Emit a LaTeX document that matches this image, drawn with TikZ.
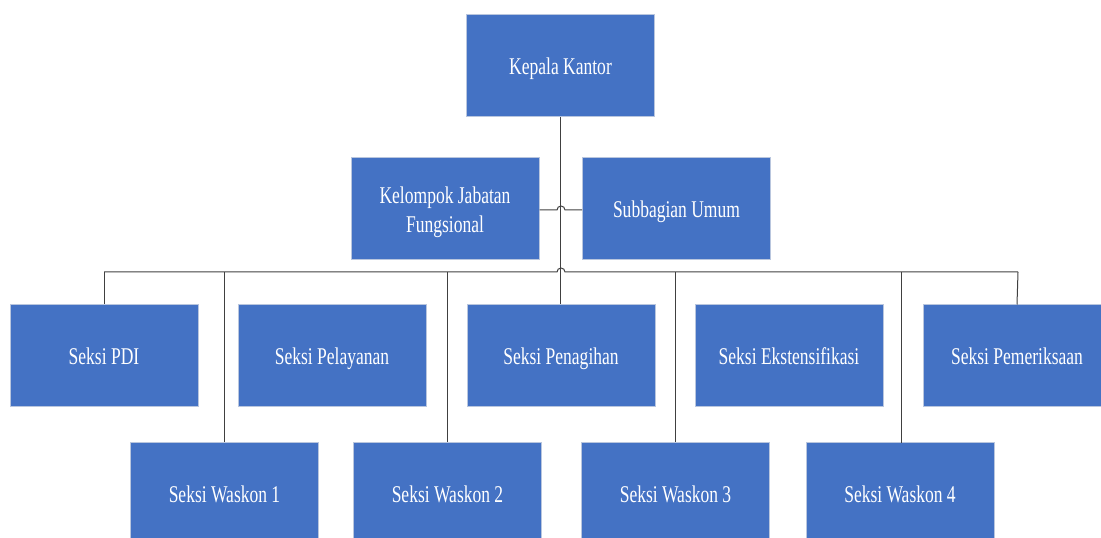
\documentclass[tikz,border=0pt]{standalone}
\usepackage{fontspec}
\setmainfont{Liberation Serif}[FakeStretch=0.73]
\definecolor{boxblue}{RGB}{68,114,196}
\definecolor{boxedge}{RGB}{185,198,222}
\definecolor{linegray}{RGB}{64,64,64}
\begin{document}
\begin{tikzpicture}[x=1pt,y=1pt,
  unit/.style={draw=boxedge, line width=1pt, fill=boxblue, text=white,
    minimum width=188pt, minimum height=102pt, inner sep=0pt, align=center,
    font=\fontsize{24}{29}\selectfont},
  oneline/.style={unit, text height=20pt, text depth=2pt},
  conn/.style={draw=linegray, line width=1pt}]
\useasboundingbox (0,0) rectangle (1101,538);
% top
\node[oneline] (kk) at (560.5,472) {Kepala Kantor};
\node[unit, text=white] (kj) at (445,329) {};
\node[text=white, align=center, font=\fontsize{24}{29}\selectfont] (kjt) at (445,326) {Kelompok Jabatan\\Fungsional};
\node[oneline] (su) at (676.5,329) {Subbagian Umum};
% row 1
\node[oneline] (pdi) at (104,182) {Seksi PDI};
\node[oneline] (pel) at (332,182) {Seksi Pelayanan};
\node[oneline] (pen) at (561,182) {Seksi Penagihan};
\node[oneline] (eks) at (789,182) {Seksi Ekstensifikasi};
\node[oneline] (pem) at (1017,182) {Seksi Pemeriksaan};
% row 2
\node[oneline] (w1) at (224.5,44) {Seksi Waskon 1};
\node[oneline] (w2) at (447.5,44) {Seksi Waskon 2};
\node[oneline] (w3) at (675.5,44) {Seksi Waskon 3};
\node[oneline] (w4) at (900,44) {Seksi Waskon 4};
% connectors
\draw[conn] (kk.south) -- (kk.south |- pen.north);
\coordinate (hopA) at (557,328);
\coordinate (hopB) at (557,266);
\coordinate (busL) at (104,266);
\coordinate (busR) at (1018,266);
\draw[conn] (kj.east |- hopA) -- (hopA) arc[start angle=180,end angle=0,radius=4] -- (su.west |- hopA);
\draw[conn] (busL) -- (hopB) arc[start angle=180,end angle=0,radius=4] -- (busR);
\draw[conn] (busL) -- (pdi.north);
\draw[conn] (busR) -- (pem.north);
\draw[conn] (w1.north |- busL) -- (w1.north);
\draw[conn] (w2.north |- busL) -- (w2.north);
\draw[conn] (w3.north |- busL) -- (w3.north);
\coordinate (w4top) at (901,95);
\draw[conn] (w4top |- busL) -- (w4top);
\end{tikzpicture}
\end{document}
